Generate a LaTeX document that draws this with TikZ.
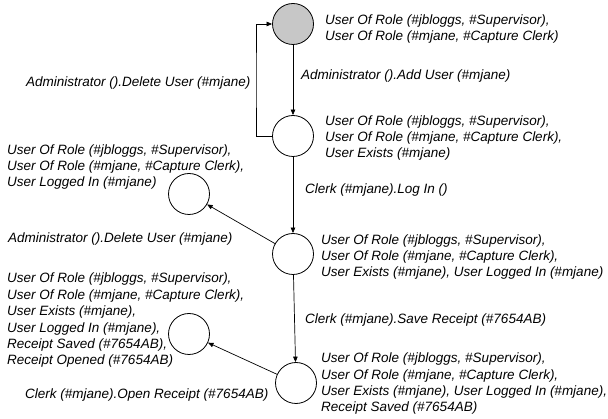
\documentclass[tikz,border=0pt]{standalone}
\usepackage{fontspec}
\setmainfont{Liberation Sans}
\usetikzlibrary{arrows.meta}
\begin{document}
\begin{tikzpicture}[x=1pt,y=-1pt,
  state/.style={circle,draw,line width=0.8pt,minimum size=41pt,inner sep=0pt},
  start/.style={state,fill=black!22},
  % multi-line labels are anchored at the baseline of their last line
  lbl/.style={anchor=base west,inner sep=0pt,align=left,
    font=\fontsize{13.5}{16.4}\selectfont\itshape},
  trans/.style={line width=0.7pt,-{Triangle[length=5.5pt,width=4.5pt]}}]
\useasboundingbox (0,0) rectangle (608,419);
% states
\node[start] (n0) at (293,24) {};
\node[state] (n1) at (293,136) {};
\node[state] (n2) at (189,194) {};
\node[state] (n3) at (293,254) {};
\node[state] (n4) at (189,334) {};
\node[state] (n5) at (296,383) {};
% state descriptions
\node[lbl] (d0) at (325,40.5) {User Of Role (\#jbloggs, \#Supervisor),\\User Of Role (\#mjane, \#Capture Clerk)};
\node[lbl] (d1) at (325,158) {User Of Role (\#jbloggs, \#Supervisor),\\User Of Role (\#mjane, \#Capture Clerk),\\User Exists (\#mjane)};
\node[lbl] (d2) at (7,187) {User Of Role (\#jbloggs, \#Supervisor),\\User Of Role (\#mjane, \#Capture Clerk),\\User Logged In (\#mjane)};
\node[lbl] (d3) at (321,277) {User Of Role (\#jbloggs, \#Supervisor),\\User Of Role (\#mjane, \#Capture Clerk),\\User Exists (\#mjane), User Logged In (\#mjane)};
\node[lbl] (d4) at (7,365) {User Of Role (\#jbloggs, \#Supervisor),\\User Of Role (\#mjane, \#Capture Clerk),\\User Exists (\#mjane),\\User Logged In (\#mjane),\\Receipt Saved (\#7654AB),\\Receipt Opened (\#7654AB)};
\node[lbl] (d5) at (321,412) {User Of Role (\#jbloggs, \#Supervisor),\\User Of Role (\#mjane, \#Capture Clerk),\\User Exists (\#mjane), User Logged In (\#mjane),\\Receipt Saved (\#7654AB)};
% transition labels
\node[lbl] (t01) at (301,80) {Administrator ().Add User (\#mjane)};
\node[lbl] (t10) at (26,87) {Administrator ().Delete User (\#mjane)};
\node[lbl] (t13) at (305,194) {Clerk (\#mjane).Log In ()};
\node[lbl] (t32) at (8,243) {Administrator ().Delete User (\#mjane)};
\node[lbl] (t35) at (305,324) {Clerk (\#mjane).Save Receipt (\#7654AB)};
\node[lbl] (t54) at (25,399) {Clerk (\#mjane).Open Receipt (\#7654AB)};
% transitions
\coordinate (loop) at (256,80);
\draw[trans] (n0) -- (n1);
\draw[trans] (n1.west) -| (loop) |- (n0.west);
\draw[trans] (n1) -- (n3);
\draw[trans] (n3) -- (n2);
\draw[trans] (n3) -- (n5);
\draw[trans] (n5) -- (n4);
\end{tikzpicture}
\end{document}
